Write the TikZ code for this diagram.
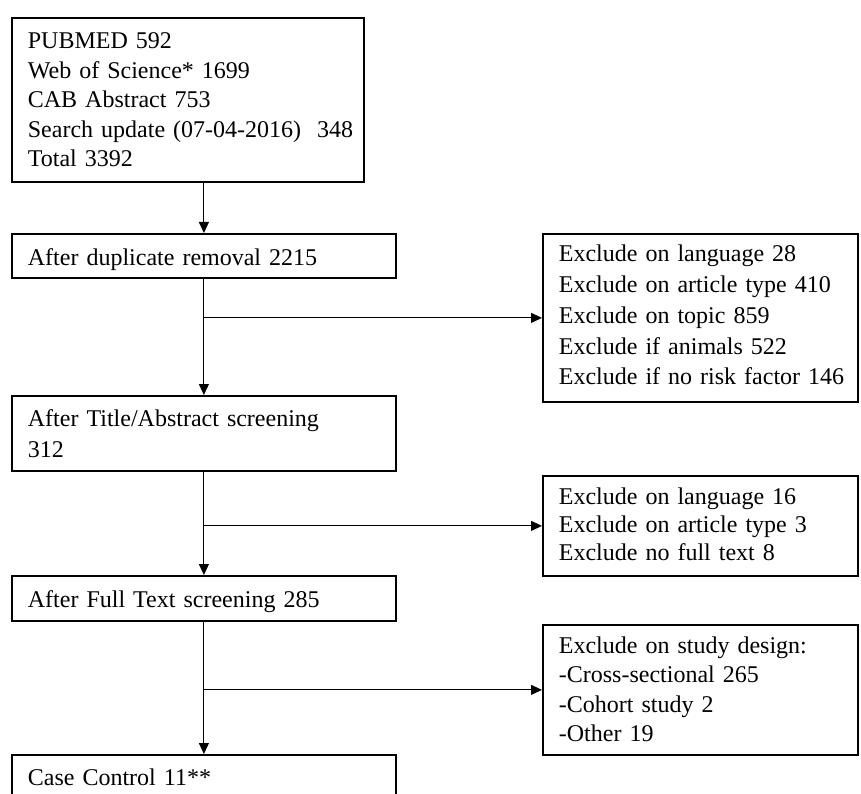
\documentclass[tikz,border=0pt]{standalone}
\usepackage{fontspec}
\setmainfont{Liberation Serif}
\usetikzlibrary{arrows.meta}
\begin{document}
\begin{tikzpicture}[x=1pt,y=-1pt,
  box/.style={draw, line width=1.8pt, anchor=north west, inner xsep=16pt,
    inner ysep=0pt, align=left},
  arr/.style={line width=1pt, -{Triangle[length=11pt,width=10pt]}}]
\useasboundingbox (0,0) rectangle (861,794);
\clip (0,0) rectangle (861,794);

% main column
\node[box, text width=320pt, text height=31pt, text depth=133pt,
  font=\fontsize{24}{29.5}\selectfont] (n1) at (11,17)
  {PUBMED 592\\ Web of Science* 1699\\ CAB Abstract 753\\
   \mbox{Search update (07-04-2016)\ \ 348}\\ Total 3392};
\node[box, text width=352pt, text height=32pt, text depth=12pt,
  font=\fontsize{24}{29.5}\selectfont] (n2) at (11,233)
  {After duplicate removal 2215};
\node[box, text width=352pt, text height=31pt, text depth=44pt,
  font=\fontsize{24}{31}\selectfont] (n3) at (11,395)
  {After Title/Abstract screening\\ 312};
\node[box, text width=352pt, text height=32pt, text depth=13pt,
  font=\fontsize{24}{29.5}\selectfont] (n4) at (11,575)
  {After Full Text screening 285};
\node[box, text width=352pt, text height=31pt, text depth=15pt,
  font=\fontsize{24}{29.5}\selectfont] (n5) at (11,754)
  {Case Control 11**};

% exclusion boxes
\node[box, text width=283pt, text height=28pt, text depth=140pt,
  font=\fontsize{24}{30.75}\selectfont] (r1) at (542,233)
  {Exclude on language 28\\ Exclude on article type 410\\
   Exclude on topic 859\\ Exclude if animals 522\\
   \mbox{Exclude if no risk factor 146}};
\node[box, text width=283pt, text height=29pt, text depth=71pt,
  font=\fontsize{24}{28}\selectfont] (r2) at (542,475)
  {Exclude on language 16\\ Exclude on article type 3\\
   Exclude no full text 8};
\node[box, text width=283pt, text height=28.5pt, text depth=101.5pt,
  font=\fontsize{24}{29.5}\selectfont] (r3) at (542,624)
  {Exclude on study design:\\ -Cross-sectional 265\\
   -Cohort study 2\\ -Other 19};

% flow connectors
\draw[arr] (n2.north |- n1.south) -- (n2.north);
\draw[arr] (n2.south) -- (n3.north);
\draw[arr] (n3.south) -- (n4.north);
\draw[arr] (n4.south) -- (n5.north);
\draw[arr] (n2.south |- r1.west) -- (r1.west);
\draw[arr] (n3.south |- r2.west) -- (r2.west);
\draw[arr] (n4.south |- r3.west) -- (r3.west);
\end{tikzpicture}
\end{document}
